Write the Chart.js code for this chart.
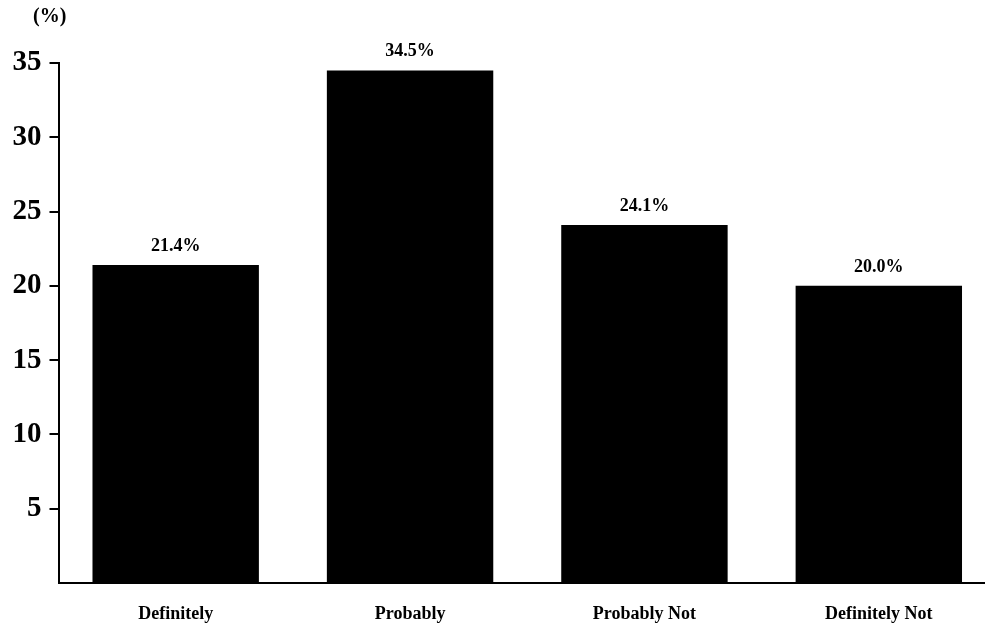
<!DOCTYPE html>
<html>
<head>
<meta charset="utf-8">
<script src="https://cdn.jsdelivr.net/npm/chart.js@4/dist/chart.umd.min.js"></script>
<style>
  html, body { margin: 0; padding: 0; background: #fff; overflow: hidden; }
  #wrap { width: 996px; height: 633px; position: relative; }
</style>
</head>
<body>
<div id="wrap"><canvas id="c" width="996" height="633"></canvas></div>
<script>
const categories = ["Definitely", "Probably", "Probably Not", "Definitely Not"];
const values = [21.4, 34.5, 24.1, 20.0];
const valueLabels = ["21.4%", "34.5%", "24.1%", "20.0%"];
const yTicks = [0, 5, 10, 15, 20, 25, 30, 35];
const unitLabel = "(%)";

const serif = "'Liberation Serif', 'Times New Roman', serif";

const extras = {
  id: 'extras',
  afterDatasetsDraw(chart) {
    const ctx = chart.ctx;
    const meta = chart.getDatasetMeta(0);
    ctx.save();
    ctx.fillStyle = '#000';
    ctx.font = 'bold 18px ' + serif;
    ctx.textAlign = 'center';
    ctx.textBaseline = 'middle';
    meta.data.forEach((bar, i) => {
      ctx.fillText(valueLabels[i], bar.x, bar.y - 19);
    });
    ctx.font = 'bold 20px ' + serif;
    ctx.textAlign = 'left';
    ctx.fillText(unitLabel, 33, 17);
    ctx.restore();
  }
};

new Chart(document.getElementById('c'), {
  type: 'bar',
  data: {
    labels: categories,
    datasets: [{
      data: values,
      backgroundColor: '#000',
      borderWidth: 0,
      barPercentage: 0.71,
      categoryPercentage: 1.0
    }]
  },
  options: {
    responsive: false,
    animation: false,
    layout: { padding: { top: 63, bottom: 0, left: 0, right: 0 } },
    plugins: { legend: { display: false }, tooltip: { enabled: false }, title: { display: false } },
    scales: {
      x: {
        afterFit(scale) { scale.height = 50; },
        grid: { display: true, drawOnChartArea: false, drawTicks: false },
        border: { display: true, color: '#000', width: 2 },
        ticks: { color: '#000', padding: 21, font: { family: serif, size: 18, weight: 'bold' }, maxRotation: 0 }
      },
      y: {
        min: 0, max: 35,
        afterBuildTicks(scale) { scale.ticks = yTicks.map(v => ({ value: v })); },
        afterFit(scale) { scale.width = 58.5; scale.paddingTop = 0; scale.paddingBottom = 0; },
        grid: {
          display: true, drawOnChartArea: false, drawTicks: true, tickLength: 9, lineWidth: 2,
          color: (c) => (c.tick && c.tick.value === 0) ? 'rgba(0,0,0,0)' : '#000'
        },
        border: { display: true, color: '#000', width: 2 },
        ticks: {
          color: '#000', padding: 8,
          font: { family: serif, size: 29, weight: 'bold' },
          callback: (v) => v === 0 ? '' : String(v)
        }
      }
    }
  },
  plugins: [extras]
});
</script>
</body>
</html>
